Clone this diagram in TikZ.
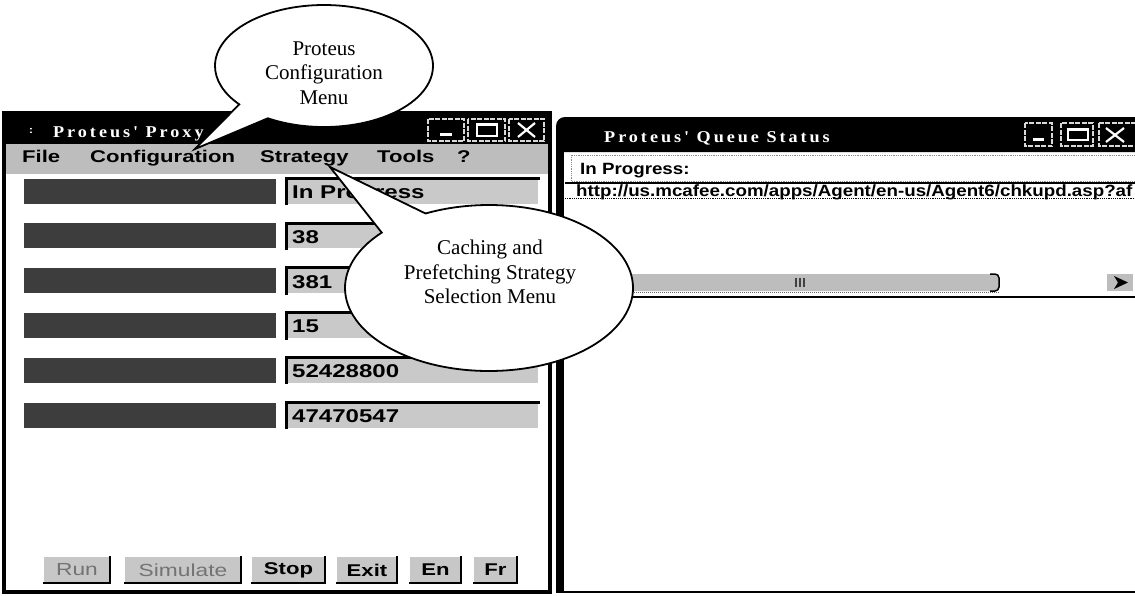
\documentclass[tikz,border=0pt]{standalone}
\usepackage{fontspec}
\setmainfont{Liberation Serif}
\newfontfamily\guifont[FakeStretch=1.3]{Liberation Sans}
\newfontfamily\listfont[FakeStretch=1.15]{Liberation Sans}
\newfontfamily\titlefont[FakeStretch=1.1,LetterSpace=18]{Liberation Serif}
\usetikzlibrary{shapes.callouts}

\definecolor{panelgray}{gray}{0.74}
\definecolor{fieldgray}{gray}{0.79}
\definecolor{labeldark}{gray}{0.24}
\definecolor{btngray}{gray}{0.78}
\definecolor{disabledtext}{gray}{0.45}

\tikzset{
  wintitle/.style={text=white, font=\titlefont\bfseries\fontsize{16.5}{18}\selectfont, anchor=base west, inner sep=0pt},
  menuitem/.style={font=\guifont\bfseries\fontsize{17}{19}\selectfont, anchor=base west, inner sep=0pt},
  labelbox/.style={fill=labeldark, minimum width=252pt, minimum height=25pt, inner sep=0pt, anchor=west},
  fieldbox/.style={fill=fieldgray, minimum width=252pt, minimum height=25pt, inner sep=0pt, anchor=west},
  sunken/.style={line width=3pt, line cap=rect},
  fieldtext/.style={font=\guifont\bfseries\fontsize{18.5}{20}\selectfont, anchor=base west, inner sep=0pt},
  pushbtn/.style={fill=btngray, minimum height=26pt, inner sep=0pt, font=\guifont\bfseries\fontsize{17}{19}\selectfont},
  offbtn/.style={pushbtn, text=disabledtext, font=\guifont\fontsize{17.5}{19}\selectfont},
  raised/.style={line width=2.5pt, line cap=rect},
  capbox/.style={draw=white!85!black, line width=1.2pt, dash pattern=on 5pt off 1.5pt},
  capglyph/.style={draw=white, line width=2.2pt},
  listtext/.style={font=\listfont\bfseries\fontsize{16.3}{18}\selectfont, anchor=base west, inner sep=0pt},
  bubble/.style={ellipse callout, draw=black, fill=white, line width=1.8pt, inner sep=0pt},
  bubbletext/.style={align=center, font=\fontsize{21}{24.5}\selectfont, inner sep=0pt}
}

\begin{document}
\begin{tikzpicture}[x=1pt, y=-1pt]
  \fill[white] (0,0) rectangle (1135,595);
  \useasboundingbox (0,0) rectangle (1135,595);

  % ---------- Proxy window ----------
  \fill[white] (4,113) rectangle (550,592);
  \fill[black] (4,113) rectangle (550,144);
  \node[text=white, font=\guifont\bfseries\fontsize{10}{12}\selectfont, inner sep=0pt] (proxyicon) at (31,131) {:};
  \node[wintitle] (proxytitle) at (53,137) {Proteus' Proxy};

  % caption buttons
  \draw[capbox] (428,119) rectangle (464,141);
  \draw[capbox] (468,119) rectangle (505,141);
  \draw[capbox] (509,119) rectangle (544,141);
  \draw[capglyph, line width=3.5pt] (440,134.5) -- (452,134.5);
  \draw[capglyph, line width=2pt] (477,124) rectangle (497,136);
  \draw[capglyph, line width=2pt] (477,125) -- (497,125);
  \draw[capglyph] (518,123) -- (535,137) (518,137) -- (535,123);

  % menu bar
  \fill[panelgray] (6,144) rectangle (548,174);
  \node[menuitem] (mfile) at (22,162) {File};
  \node[menuitem] (mconf) at (90,162) {Configuration};
  \node[menuitem] (mstrat) at (260,162) {Strategy};
  \node[menuitem] (mtools) at (377,162) {Tools};
  \node[menuitem] (mhelp) at (457,162) {?};

  % status rows
  \foreach \i/\val in {0/In Progress, 1/38, 2/381, 3/15, 4/52428800, 5/47470547} {
    \pgfmathsetmacro{\cy}{191+44.8*\i}
    \node[labelbox] (lab\i) at (24,\cy) {};
    \node[fieldbox] (fld\i) at (286,\cy) {};
    \draw[sunken] (fld\i.south west) -- (fld\i.north west) -- (fld\i.north east);
    \node[fieldtext] (val\i) at (292,\cy+7.5) {\val};
  }

  % command buttons
  \node[offbtn, minimum width=66pt] (brun) at (77,570) {Run};
  \node[offbtn, minimum width=116pt] (bsim) at (183,570) {Simulate};
  \node[pushbtn, minimum width=73pt] (bstop) at (288.5,570) {Stop};
  \node[pushbtn, minimum width=60pt] (bexit) at (367,570) {Exit};
  \node[pushbtn, minimum width=51pt] (ben) at (435.5,570) {En};
  \node[pushbtn, minimum width=43pt] (bfr) at (495.5,570) {Fr};
  \foreach \b in {brun,bsim,bstop,bexit,ben,bfr} {
    \draw[raised] (\b.north east) -- (\b.south east) -- (\b.south west);
  }

  \draw[line width=4pt] (4,113) rectangle (550,592);

  % ---------- Queue window ----------
  \fill[black] (556,152) [rounded corners=9pt] -- (556,117) [sharp corners] -- (1140,117) -- (1140,152) -- cycle;
  \fill[black] (556,140) rectangle (564,593);
  \draw[line width=2.5pt] (556,592) -- (1140,592);
  \node[wintitle] (queuetitle) at (604,142) {Proteus' Queue Status};

  \draw[capbox] (1025,123) rectangle (1052,146);
  \draw[capbox] (1061,123) rectangle (1093,146);
  \draw[capbox] (1099,123) rectangle (1140,146);
  \draw[capglyph, line width=3.5pt] (1033,139.5) -- (1044,139.5);
  \draw[capglyph, line width=2pt] (1068,129) rectangle (1088,140);
  \draw[capglyph, line width=2pt] (1068,130) -- (1088,130);
  \draw[capglyph] (1106,128) -- (1124,142) (1106,142) -- (1124,128);

  \draw[black!45, densely dotted, line width=0.8pt] (571,155) rectangle (1140,181);
  \node[listtext] (inprog) at (580,174) {In Progress:};
  \draw[line width=2pt] (565,182.5) -- (1135,182.5);
  \begin{scope}
    \clip (565,183) rectangle (1135,200);
    \node[listtext] (qurl) at (576,196) {http://us.mcafee.com/apps/Agent/en-us/Agent6/chkupd.asp?af};
  \end{scope}
  \draw[densely dotted, line width=1.2pt] (565,198.5) -- (1135,198.5);

  % horizontal scroll bar
  \fill[panelgray, rounded corners=4pt] (566,274) rectangle (999,291);
  \draw[line width=1.5pt, rounded corners=4pt] (990,274) -- (999,274) -- (999,291) -- (990,291);
  \draw[black!60, densely dotted, line width=1pt] (566,292.5) -- (999,292.5);
  \foreach \gx in {796,800,804} {
    \draw[black!75, line width=1.2pt] (\gx,278) -- (\gx,287);
  }
  \fill[panelgray] (1107,274) rectangle (1133,291);
  \fill[black] (1114,276) -- (1128,282.5) -- (1114,289) -- (1118,282.5) -- cycle;
  \draw[line width=2pt] (565,297) -- (1135,297);

  % ---------- callouts ----------
  \coordinate (tipconf) at (195,149);
  \coordinate (tipstrat) at (330,167);
  \node[bubble, minimum width=218pt, minimum height=122pt,
        callout absolute pointer=(tipconf), callout pointer arc=20] (bubconf) at (324,66) {};
  \node[bubbletext] (bubconftext) at (324,73) {Proteus\\Configuration\\Menu};
  \node[bubble, minimum width=288pt, minimum height=166pt,
        callout absolute pointer=(tipstrat), callout pointer arc=22] (bubstrat) at (489,288) {};
  \node[bubbletext] (bubstrattext) at (490,272) {Caching and\\Prefetching Strategy\\Selection Menu};
\end{tikzpicture}
\end{document}
